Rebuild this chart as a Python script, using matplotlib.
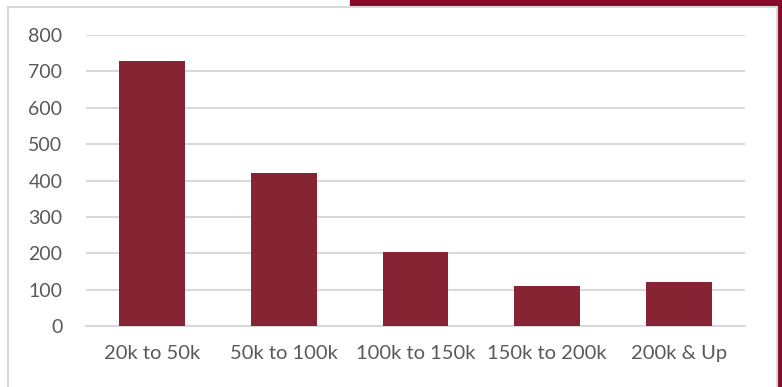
import matplotlib.pyplot as plt
from matplotlib.patches import Rectangle

categories = ['20k to 50k', '50k to 100k', '100k to 150k', '150k to 200k', '200k & Up']
counts = [728, 421, 203, 110, 121]
yticks = [0, 100, 200, 300, 400, 500, 600, 700, 800]

W, H = 782, 387
fig = plt.figure(figsize=(W / 100, H / 100), dpi=100)
plt.rcParams['font.family'] = ['Lato', 'DejaVu Sans']

# dark red frame behind the chart (top right band and right strip)
fig.patches.append(Rectangle((350 / W, 1 - 7 / H), 1, 7 / H, transform=fig.transFigure,
                             color='#870A2B', zorder=0))
fig.patches.append(Rectangle((777 / W, 0), 5 / W, 1, transform=fig.transFigure,
                             color='#870A2B', zorder=0))
# white chart box with light gray border
fig.patches.append(Rectangle((8 / W, -0.05), 769 / W, 1.05 - 7 / H, transform=fig.transFigure,
                             facecolor='white', edgecolor='#D9D9D9', linewidth=1.5, zorder=1))

ax = fig.add_axes([86 / W, 1 - 326 / H, (745 - 86) / W, (326 - 35) / H])
ax.set_zorder(2)
ax.patch.set_visible(False)

x = range(len(categories))
ax.bar(x, counts, width=0.5, color='#872433', zorder=3)

ax.set_xlim(-0.5, len(categories) - 0.5)
ax.set_ylim(0, 800)
ax.set_yticks(yticks)
ax.set_xticks(list(x))
ax.set_xticklabels(categories)
ax.yaxis.grid(True, color='#D9D9D9', linewidth=1.5, zorder=0)
ax.set_axisbelow(True)
for s in ['top', 'right', 'left']:
    ax.spines[s].set_visible(False)
ax.spines['bottom'].set_color('#D9D9D9')
ax.spines['bottom'].set_linewidth(1.5)
ax.tick_params(axis='both', length=0, labelsize=14, colors='#595959')
ax.tick_params(axis='x', labelsize=14.5, pad=14)
ax.tick_params(axis='y', pad=17)

fig.savefig('out.png', dpi=100)
